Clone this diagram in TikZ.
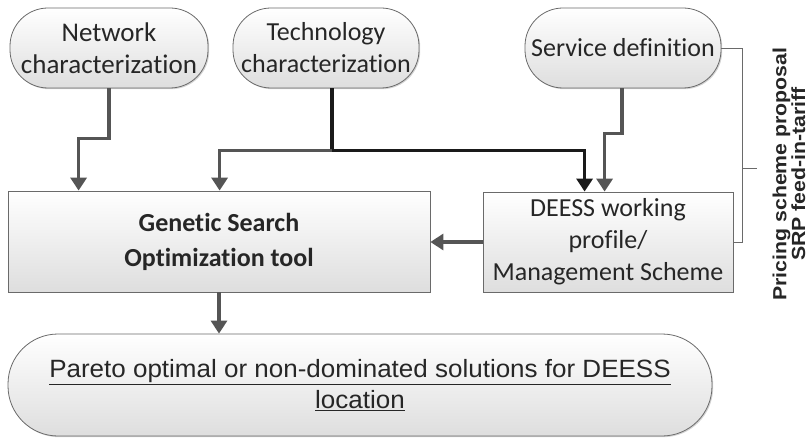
\documentclass[tikz,border=0pt]{standalone}
\usepackage{fontspec}
\setmainfont{Carlito}[Ligatures=NoCommon]
\newfontfamily\narrowfont{Liberation Sans}[FakeStretch=1.04]
\newfontfamily\labelfont{Liberation Sans}[FakeStretch=1.12]
\usetikzlibrary{arrows.meta,shadows}
\definecolor{bordergray}{HTML}{6A6A6A}
\definecolor{arrowgray}{HTML}{555555}
\definecolor{darkline}{HTML}{1A1A1A}
\definecolor{txt}{HTML}{262626}
\begin{document}
\begin{tikzpicture}[x=1pt,y=-1pt,
  boxbase/.style={draw=bordergray,line width=0.8pt,top color=white,bottom color=black!13,
    text=txt,align=center,inner sep=2pt,
    drop shadow={shadow xshift=1.2pt,shadow yshift=-1.2pt,opacity=0.35}},
  pill/.style={boxbase,rounded corners=38pt,font=\fontsize{26}{32}\selectfont},
  rbox/.style={boxbase,rectangle,font=\fontsize{26}{32}\selectfont},
  garrow/.style={draw=arrowgray,line width=3.5pt,-{Triangle[length=13pt,width=16pt]}},
  barrow/.style={draw=darkline,line width=3.5pt,-{Triangle[length=13pt,width=16pt]}},
  thinline/.style={draw=bordergray,line width=0.9pt}]
\useasboundingbox (0,0) rectangle (808,438);
\node[pill,minimum width=198pt,minimum height=80pt,font=\fontsize{27}{32}\selectfont] (net) at (109,48) {Network\\characterization};
\node[pill,minimum width=186pt,minimum height=80pt] (tech) at (326,48) {Technology\\characterization};
\node[pill,minimum width=196pt,minimum height=80pt] (serv) at (623,48) {Service definition};
\node[rbox,minimum width=422pt,minimum height=101pt,font=\bfseries\fontsize{26}{35}\selectfont] (gen) at (219,241.5) {Genetic Search\\Optimization tool};
\node[rbox,minimum width=250pt,minimum height=100pt] (deess) at (608,242) {DEESS working\\profile/\\Management Scheme};
\node[pill,rounded corners=50pt,minimum width=704pt,minimum height=102pt,font=\narrowfont\fontsize{25}{31}\selectfont] (par) at (360,385)
  {\underline{Pareto optimal or non-dominated solutions for DEESS}\\\underline{location}};
% arrows
\draw[garrow] (net.south) -- ++(0,50) -| ([xshift=71pt]gen.north west);
\draw[darkline,line width=3.5pt] ([xshift=6pt]tech.south) -- ++(0,62) coordinate (j);
\draw[garrow] (j) -| ([xshift=212pt]gen.north west);
\draw[barrow] (j) -| ([xshift=102pt]deess.north west);
\draw[garrow] ([xshift=-1pt]serv.south) -- ++(0,45) -| ([xshift=122pt]deess.north west);
\draw[garrow] (deess.west) -- (gen.east |- deess.west);
\draw[garrow] (gen.south) -- (gen.south |- par.north);
% bracket
\draw[thinline] (serv.east) -- ++(21,0) coordinate (bt) |- (deess.east);
\coordinate (bm) at (bt |- 0,168);
\draw[thinline] (bm) -- ++(15,0);
\node[rotate=90,align=center,inner sep=0pt,text=txt,font=\labelfont\bfseries\fontsize{19}{17}\selectfont] (lbl) at (789,174)
  {Pricing scheme proposal\\SRP feed-in-tariff};
\end{tikzpicture}
\end{document}
